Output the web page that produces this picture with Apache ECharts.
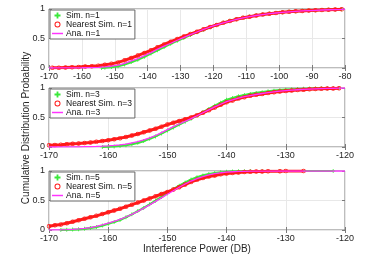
<!DOCTYPE html>
<html><head><meta charset="utf-8">
<script src="https://cdn.jsdelivr.net/npm/echarts@6/dist/echarts.min.js"></script>
<style>html,body{margin:0;padding:0;background:#fff}#c{width:381px;height:262px}</style>
</head><body><div id="c"></div>
<script>
// ---- data ----
const xTicks1 = [-170,-160,-150,-140,-130,-120,-110,-100,-90,-80];
const xTicks23 = [-170,-160,-150,-140,-130,-120];
const yTicks = [0,0.5,1];

// Panel n=1
const anaX1 = [-170,-165,-160,-157,-155,-153,-151,-149,-147,-145,-143,-141,-139,-137,-135,-133,-131,-129,-127,-125,-123,-121,-119,-117,-115,-113,-111,-109,-107,-105,-103,-101,-99,-97,-95,-93,-91,-89,-87,-85,-83,-81,-80];
const anaY1 = [0,0.001,0.004,0.008,0.012,0.02,0.03,0.05,0.08,0.12,0.16,0.21,0.26,0.32,0.37,0.42,0.47,0.52,0.565,0.61,0.655,0.695,0.73,0.765,0.795,0.825,0.85,0.87,0.89,0.905,0.92,0.932,0.943,0.952,0.96,0.967,0.973,0.978,0.983,0.987,0.991,0.995,1];
const nearX1 = [-169,-167,-165,-163,-161,-159,-157,-155,-153,-151,-149,-147,-145,-143,-141,-139,-137,-135,-133,-131,-129,-127,-125,-123,-121,-119,-117,-115,-113,-111,-109,-107,-105,-103,-101,-99,-97,-95,-93,-91,-89,-87,-85,-83,-81];
const nearY1 = [0.003,0.006,0.01,0.014,0.018,0.024,0.03,0.04,0.055,0.07,0.095,0.13,0.17,0.21,0.255,0.3,0.35,0.4,0.445,0.49,0.535,0.575,0.615,0.655,0.695,0.73,0.765,0.795,0.825,0.85,0.87,0.89,0.905,0.92,0.932,0.943,0.952,0.96,0.967,0.973,0.978,0.983,0.988,0.993,0.997];
const simX1 = [-154,-153,-151,-149,-147,-145,-143,-141,-139,-137,-135,-133,-131,-129,-127,-125,-123,-121,-119,-117,-115,-113,-111,-109,-107,-105,-103,-101,-99,-97,-95,-93,-91,-89,-87,-85,-83,-81];
const simY1 = [0.002,0.005,0.015,0.03,0.06,0.1,0.14,0.19,0.245,0.3,0.355,0.41,0.46,0.51,0.56,0.605,0.65,0.69,0.73,0.765,0.8,0.828,0.852,0.873,0.892,0.907,0.922,0.934,0.945,0.954,0.962,0.969,0.975,0.98,0.985,0.989,0.993,0.997];

// Panel n=3
const anaX3 = [-170,-169,-168,-167,-166,-165,-164,-163,-162,-161,-160,-159,-158,-157,-156,-155,-154,-153,-152,-151,-150,-149,-148,-147,-146,-145,-144,-143,-142,-141,-140,-139,-138,-137,-136,-135,-134,-133,-132,-131,-130,-129,-128,-127,-126,-125,-124,-123,-122,-121,-120];
const anaY3 = [0,0,0.001,0.001,0.002,0.003,0.005,0.007,0.01,0.014,0.02,0.027,0.037,0.05,0.068,0.09,0.12,0.155,0.195,0.245,0.295,0.345,0.39,0.435,0.48,0.53,0.58,0.63,0.68,0.725,0.77,0.8,0.83,0.852,0.872,0.89,0.907,0.922,0.935,0.946,0.955,0.963,0.97,0.976,0.981,0.986,0.99,0.993,0.996,0.998,1];
const nearX3 = [-170,-169,-168,-167,-166,-165,-164,-163,-162,-161,-160,-159,-158,-157,-156,-155,-154,-153,-152,-151,-150,-149,-148,-147,-146,-145,-144,-143,-142,-141,-140,-139,-138,-137,-136,-135,-134,-133,-132,-131,-130,-129,-128,-127,-126,-125,-124,-123,-122,-121];
const nearY3 = [0.03,0.035,0.04,0.047,0.054,0.06,0.068,0.077,0.087,0.1,0.115,0.13,0.15,0.17,0.195,0.22,0.25,0.28,0.31,0.345,0.38,0.41,0.44,0.47,0.5,0.54,0.58,0.625,0.67,0.715,0.76,0.79,0.82,0.845,0.868,0.885,0.9,0.915,0.928,0.94,0.95,0.958,0.965,0.971,0.977,0.982,0.986,0.99,0.993,0.996];
const simX3 = [-161,-160,-159,-158,-157,-156,-155,-154,-153,-152,-151,-150,-149,-148,-147,-146,-145,-144,-143,-142,-141,-140,-139,-138,-137,-136,-135,-134,-133,-132,-131,-130,-129,-128,-127,-126,-125,-124,-123,-122,-121];
const simY3 = [0.002,0.005,0.01,0.018,0.03,0.048,0.07,0.1,0.14,0.18,0.23,0.28,0.33,0.38,0.43,0.48,0.535,0.59,0.645,0.7,0.75,0.8,0.83,0.86,0.882,0.9,0.916,0.93,0.943,0.955,0.964,0.972,0.978,0.983,0.987,0.99,0.993,0.995,0.997,0.998,0.999];

// Panel n=5
const anaX5 = [-170,-169,-168,-167,-166,-165,-164,-163,-162,-161,-160,-159,-158,-157,-156,-155,-154,-153,-152,-151,-150,-149,-148,-147,-146,-145,-144,-143,-142,-141,-140,-139,-138,-137,-136,-135,-134,-130,-120];
const anaY5 = [0,0.001,0.003,0.006,0.011,0.018,0.028,0.042,0.06,0.085,0.115,0.145,0.18,0.22,0.265,0.315,0.37,0.425,0.485,0.545,0.605,0.665,0.725,0.78,0.83,0.87,0.905,0.935,0.955,0.97,0.98,0.987,0.992,0.995,0.997,0.998,0.999,1,1];
const nearX5 = [-170,-169,-168,-167,-166,-165,-164,-163,-162,-161,-160,-159,-158,-157,-156,-155,-154,-153,-152,-151,-150,-149,-148,-147,-146,-145,-144,-143,-142,-141,-140,-139,-138,-137,-136,-135,-134,-133,-131,-130,-127];
const nearY5 = [0.065,0.08,0.095,0.115,0.14,0.165,0.19,0.215,0.24,0.27,0.3,0.33,0.36,0.395,0.43,0.465,0.5,0.535,0.57,0.61,0.645,0.685,0.725,0.77,0.815,0.85,0.88,0.905,0.925,0.945,0.958,0.968,0.976,0.982,0.987,0.99,0.993,0.995,0.997,0.998,0.999];
const simX5 = [-168,-167,-166,-165,-164,-163,-162,-161,-160,-159,-158,-157,-156,-155,-154,-153,-152,-151,-150,-149,-148,-147,-146,-145,-144,-143,-142,-141,-140,-139,-138,-137,-136,-134,-131,-122];
const simY5 = [0.002,0.004,0.007,0.012,0.02,0.035,0.05,0.075,0.105,0.135,0.17,0.215,0.265,0.32,0.375,0.435,0.495,0.56,0.625,0.69,0.75,0.805,0.855,0.895,0.925,0.948,0.965,0.978,0.987,0.992,0.995,0.997,0.998,0.999,1,1];

const panels = [
  {n:1, min:-170, max:-80, ticks:xTicks1, sim:[simX1,simY1], near:[nearX1,nearY1], ana:[anaX1,anaY1]},
  {n:3, min:-170, max:-120, ticks:xTicks23, sim:[simX3,simY3], near:[nearX3,nearY3], ana:[anaX3,anaY3]},
  {n:5, min:-170, max:-120, ticks:xTicks23, sim:[simX5,simY5], near:[nearX5,nearY5], ana:[anaX5,anaY5]}
];

// ---- styles ----
const GREEN = '#3ae83a', RED = '#ff1a1a', MAG = '#ff33ff';
const FONT = 'Liberation Sans';
const TXT = '#262626';
const CROSS = 'path://M4,0H6V10H4Z M0,4H10V6H0Z';
const CROSS_L = 'path://M3.5,0H6.5V10H3.5Z M0,3.5H10V6.5H0Z';
const RING = 'path://M5,0A5,5 0 1 1 4.99,0Z M5,1.6A3.4,3.4 0 1 0 5.01,1.6Z';
const LINEICON = 'path://M0,0H30V4H0Z';
const gridTops = [9, 88, 171];
const zip = (a) => a[0].map((x,i)=>[x,a[1][i]]);

const grids=[], xAxes=[], yAxes=[], series=[], legends=[];
panels.forEach((p,i)=>{
  grids.push({left:49, top:gridTops[i], width:296, height:59, show:true, borderColor:'#7a7a7a', borderWidth:1, backgroundColor:'#fff'});
  xAxes.push({type:'value', gridIndex:i, min:p.min, max:p.max, interval:10,
    axisLine:{show:false}, axisTick:{show:true, inside:true, length:3, lineStyle:{color:'#7a7a7a'}},
    axisLabel:{color:TXT, fontFamily:FONT, fontSize:9, margin:4},
    splitLine:{show:true, lineStyle:{color:'#e8e8e8', width:1}}});
  xAxes.push({type:'value', gridIndex:i, position:'top', min:p.min, max:p.max, interval:10,
    axisLine:{show:false}, axisTick:{show:true, inside:true, length:3, lineStyle:{color:'#7a7a7a'}},
    axisLabel:{show:false}, splitLine:{show:false}});
  yAxes.push({type:'value', gridIndex:i, min:0, max:1, interval:0.5,
    axisLine:{show:false}, axisTick:{show:true, inside:true, length:3, lineStyle:{color:'#7a7a7a'}},
    axisLabel:{color:TXT, fontFamily:FONT, fontSize:9, margin:4},
    splitLine:{show:true, lineStyle:{color:'#e8e8e8', width:1}}});
  yAxes.push({type:'value', gridIndex:i, position:'right', min:0, max:1, interval:0.5,
    axisLine:{show:false}, axisTick:{show:true, inside:true, length:3, lineStyle:{color:'#7a7a7a'}},
    axisLabel:{show:false}, splitLine:{show:false}});
  const nSim='Sim. n='+p.n, nNear='Nearest Sim. n='+p.n, nAna='Ana. n='+p.n;
  series.push({name:nSim, type:'line', xAxisIndex:2*i, yAxisIndex:2*i, data:zip(p.sim),
    symbol:CROSS, symbolSize:4, showAllSymbol:true, animation:false,
    lineStyle:{color:GREEN, width:2.2}, itemStyle:{color:GREEN}, z:2});
  series.push({name:nNear, type:'line', xAxisIndex:2*i, yAxisIndex:2*i, data:zip(p.near),
    symbol:RING, symbolSize:4.5, showAllSymbol:true, animation:false,
    lineStyle:{color:RED, width:3}, itemStyle:{color:RED}, z:3});
  series.push({name:nAna, type:'line', xAxisIndex:2*i, yAxisIndex:2*i, data:zip(p.ana),
    showSymbol:false, symbol:'none', animation:false,
    lineStyle:{color:MAG, width:1.3}, itemStyle:{color:MAG}, z:4});
  legends.push({orient:'vertical', left:50, top:gridTops[i]+1, itemGap:0, itemWidth:11, itemHeight:6,
    symbolKeepAspect:true, padding:[1,3,1,2], backgroundColor:'#fff', borderColor:'#666', borderWidth:1, borderRadius:0,
    textStyle:{fontFamily:FONT, fontSize:8.5, color:'#111', padding:[0,0,0,-2]},
    selectedMode:false,
    data:[
      {name:nSim, icon:CROSS_L, itemStyle:{color:GREEN, borderWidth:0}},
      {name:nNear, icon:RING, itemStyle:{color:RED, borderWidth:0}},
      {name:nAna, icon:LINEICON, itemStyle:{color:MAG, borderWidth:0}}
    ]});
});

const chart = echarts.init(document.getElementById('c'), null, {renderer:'canvas'});
chart.setOption({
  animation:false,
  backgroundColor:'#fff',
  grid:grids, xAxis:xAxes, yAxis:yAxes, series:series, legend:legends,
  graphic:[
    {type:'text', x:26, y:128, rotation:Math.PI/2, style:{text:'Cumulative Distribution Probability', fontFamily:FONT, fontSize:10, fill:TXT, align:'center', verticalAlign:'middle'}},
    {type:'text', x:197, y:249, style:{text:'Interference Power (DB)', fontFamily:FONT, fontSize:10, fill:TXT, align:'center', verticalAlign:'middle'}}
  ]
});
</script></body></html>
